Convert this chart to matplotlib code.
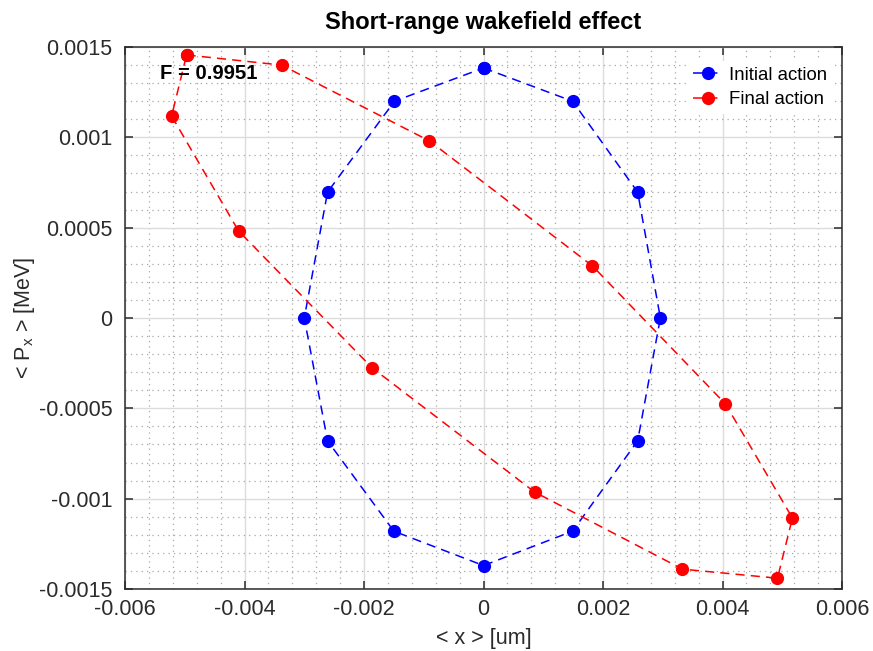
import matplotlib
matplotlib.use("Agg")
import matplotlib.pyplot as plt
from matplotlib.ticker import MultipleLocator, FuncFormatter

plt.rcParams['font.family'] = ['Liberation Sans', 'DejaVu Sans']
plt.rcParams['mathtext.default'] = 'regular'
plt.rcParams['axes.unicode_minus'] = False

# Initial action (closed loop)
init_x = [0.0, 0.00149, 0.00258, 0.00296, 0.00258, 0.00149, 0.0, -0.00150, -0.00261, -0.00300, -0.00261, -0.00149, 0.0]
init_y = [0.001384, 0.00120, 0.000697, 0.0, -0.00068, -0.00118, -0.00137, -0.00118, -0.00068, 0.0, 0.000697, 0.00120, 0.001384]

# Final action (closed loop)
final_x = [-0.00497, -0.00338, -0.000904, 0.001824, 0.00405, 0.00517, 0.00492, 0.00333, 0.000854, -0.00186, -0.00410, -0.00522, -0.00497]
final_y = [0.001456, 0.00140, 0.00098, 0.000288, -0.000476, -0.001107, -0.00144, -0.00139, -0.000963, -0.000277, 0.000482, 0.001118, 0.001456]

fidelity_text = "F = 0.9951"

fig = plt.figure(figsize=(8.73, 6.51), dpi=100)
ax = fig.add_axes([0.1432, 0.0952, 0.8213, 0.8326])

ax.plot(init_x, init_y, color=(0, 0, 1), linestyle=(0, (6, 4)), linewidth=1.1,
        marker='o', markersize=8.5, label='Initial action', zorder=3)
ax.plot(final_x, final_y, color=(1, 0, 0), linestyle=(0, (6, 4)), linewidth=1.1,
        marker='o', markersize=8.5, label='Final action', zorder=3)

ax.set_xlim(-0.006, 0.006)
ax.set_ylim(-0.0015, 0.0015)
ax.xaxis.set_major_locator(MultipleLocator(0.002))
ax.xaxis.set_minor_locator(MultipleLocator(0.0004))
ax.yaxis.set_major_locator(MultipleLocator(0.0005))
ax.yaxis.set_minor_locator(MultipleLocator(0.0001))
fmt = FuncFormatter(lambda v, p: '0' if abs(v) < 1e-12 else '{:g}'.format(round(v, 6)))
ax.xaxis.set_major_formatter(fmt)
ax.yaxis.set_major_formatter(fmt)

ax.grid(which='major', color='#dcdcdc', linestyle='-', linewidth=1.0, zorder=0)
ax.grid(which='minor', color='#a8a8a8', linestyle=(0, (1, 3.3)), linewidth=0.9, zorder=0)
ax.set_axisbelow(True)

ax.tick_params(which='both', direction='in', top=True, right=True, colors='#2b2b2b',
               labelsize=15.5)
ax.tick_params(which='major', length=6, width=1.1)
ax.tick_params(axis='x', which='major', pad=7)
ax.tick_params(axis='y', which='major', pad=9)
ax.tick_params(which='minor', length=0)
for s in ax.spines.values():
    s.set_color('#2b2b2b')
    s.set_linewidth(1.1)

ax.set_xlabel('< x > [um]', fontsize=15.5, color='#2b2b2b', labelpad=6)
ax.set_ylabel('< P$_x$ > [MeV]', fontsize=15.5, color='#2b2b2b', labelpad=1)
ax.set_title('Short-range wakefield effect', fontsize=17, fontweight='bold', pad=13)

ax.text(-0.00541, 0.001356, fidelity_text, fontsize=14.6, fontweight='bold',
        ha='left', va='center', zorder=4)

leg = ax.legend(loc='upper right', bbox_to_anchor=(1.006, 1.0),
                fontsize=13.4, frameon=True, fancybox=False,
                edgecolor='none', facecolor='white', framealpha=1.0,
                handlelength=1.6, handletextpad=0.3, borderpad=0.3,
                labelspacing=0.42, borderaxespad=0.75)

fig.savefig('out.png', dpi=100)
